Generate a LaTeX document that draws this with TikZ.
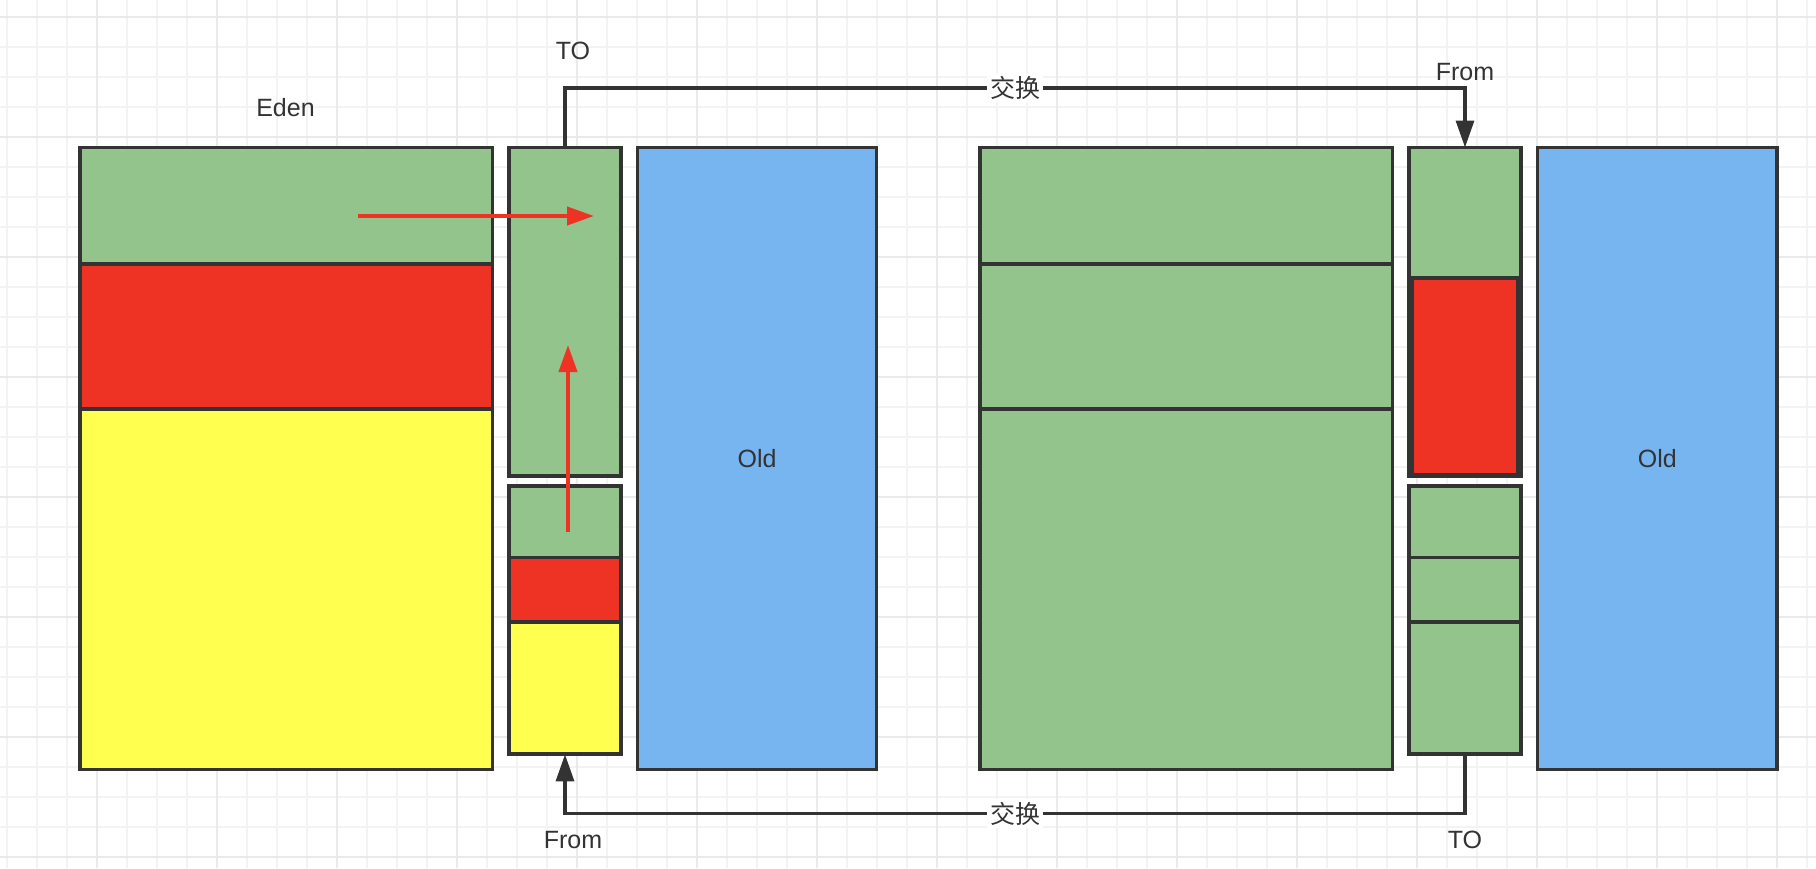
\documentclass[tikz,border=0pt]{standalone}
\usepackage{fontspec}
\setmainfont{Liberation Sans}
\newfontfamily\cjkfont{Noto Sans CJK SC}
\usetikzlibrary{arrows.meta,fit}

\definecolor{edge}{HTML}{333333}
\definecolor{liveGreen}{HTML}{93C48B}
\definecolor{moveRed}{HTML}{EE3224}
\definecolor{deadYellow}{HTML}{FFFF50}
\definecolor{oldBlue}{HTML}{76B5F0}
\definecolor{gridMinor}{HTML}{F3F3F3}
\definecolor{gridMajor}{HTML}{EAEAEA}

\tikzset{
  block/.style={draw=edge, line width=1.65pt, inner sep=0pt, outer sep=0pt},
  tag/.style={text=edge, font=\fontsize{12.5}{15}\selectfont, inner sep=1pt},
  exchange/.style={draw=edge, line width=1.65pt, -{Triangle[length=13.5pt,width=9pt]}},
  move/.style={draw=moveRed, line width=2pt, -{Triangle[length=13.5pt,width=9pt]}},
}

\begin{document}
\begin{tikzpicture}[x=0.5pt, y=-0.5pt]
	\useasboundingbox (0,0) rectangle (1816,868);
	\fill[white] (0,0) rectangle (1816,868);
	% Grid
	\foreach \gx in {7.3,37.3,...,1810}
		\draw[gridMinor, line width=1pt] (\gx,0) -- (\gx,868);
	\foreach \gy in {16.7,46.7,...,860}
		\draw[gridMinor, line width=1pt] (0,\gy) -- (1816,\gy);
	\foreach \gx in {97.3,217.3,...,1810}
		\draw[gridMajor, line width=1pt] (\gx,0) -- (\gx,868);
	\foreach \gy in {16.7,136.7,...,860}
		\draw[gridMajor, line width=1pt] (0,\gy) -- (1816,\gy);
	% Left: Eden
	\node[block, fill=liveGreen, fit={(80,147.5) (492.3,264)}] (edenLG) {};
	\node[block, fill=moveRed, fit={(80,264) (492.3,409)}] (edenLR) {};
	\node[block, fill=deadYellow, fit={(80,409) (492.3,769.3)}] (edenLY) {};
	\node[tag] (edenTag) at (285.5,108) {Eden};
	% Left: survivor spaces
	\node[block, fill=liveGreen, fit={(509,147.5) (621,476)}] (toL) {};
	\node[block, fill=liveGreen, fit={(509,486) (621,557.5)}] (fromLG) {};
	\node[block, fill=moveRed, fit={(509,557.5) (621,622)}] (fromLR) {};
	\node[block, fill=deadYellow, fit={(509,622) (621,754)}] (fromLY) {};
	\node[fit={(509,486) (621,754)}, inner sep=0pt] (fromL) {};
	\node[tag] (toLTag) at (573,51) {TO};
	\node[tag] (fromLTag) at (573,840) {From};
	% Left: Old
	\node[block, fill=oldBlue, fit={(637.5,147.5) (876.7,769.3)}] (oldL) {};
	\node[tag] (oldLTag) at (oldL.center) {Old};
	% Right: Eden
	\node[block, fill=liveGreen, fit={(980,147.5) (1392.7,264)}] (edenRA) {};
	\node[block, fill=liveGreen, fit={(980,264) (1392.7,409)}] (edenRB) {};
	\node[block, fill=liveGreen, fit={(980,409) (1392.7,769.3)}] (edenRC) {};
	% Right: survivor spaces
	\node[block, fill=liveGreen, fit={(1409,147.5) (1521,476)}] (fromR) {};
	\node[block, fill=moveRed, fit={(1412.3,278) (1517.6,474.5)}] (fromRR) {};
	\node[block, fill=liveGreen, fit={(1409,486) (1521,557.5)}] (toRA) {};
	\node[block, fill=liveGreen, fit={(1409,557.5) (1521,622)}] (toRB) {};
	\node[block, fill=liveGreen, fit={(1409,622) (1521,754)}] (toRC) {};
	\node[fit={(1409,486) (1521,754)}, inner sep=0pt] (toR) {};
	\node[tag] (fromRTag) at (1465,72) {From};
	\node[tag] (toRTag) at (1465,840) {TO};
	% Right: Old
	\node[block, fill=oldBlue, fit={(1537.5,147.5) (1777,769.3)}] (oldR) {};
	\node[tag] (oldRTag) at (oldR.center) {Old};
	% Exchange connectors
	\coordinate (topRail) at (0,88);
	\coordinate (bottomRail) at (0,813.5);
	\draw[exchange] (toL.north) -- (toL.north |- topRail) -| node[pos=0.25, tag, fill=white, inner sep=1.5pt] {\cjkfont 交换} (fromR.north);
	\draw[exchange] (toR.south) -- (toR.south |- bottomRail) -| node[pos=0.25, tag, fill=white, inner sep=1.5pt] {\cjkfont 交换} (fromL.south);
	% Copy arrows
	\coordinate (moveAStart) at (358,216);
	\coordinate (moveAEnd) at (594,216);
	\coordinate (moveBStart) at (568,532);
	\coordinate (moveBEnd) at (568,345);
	\draw[move] (moveAStart) -- (moveAEnd);
	\draw[move] (moveBStart) -- (moveBEnd);
\end{tikzpicture}
\end{document}
